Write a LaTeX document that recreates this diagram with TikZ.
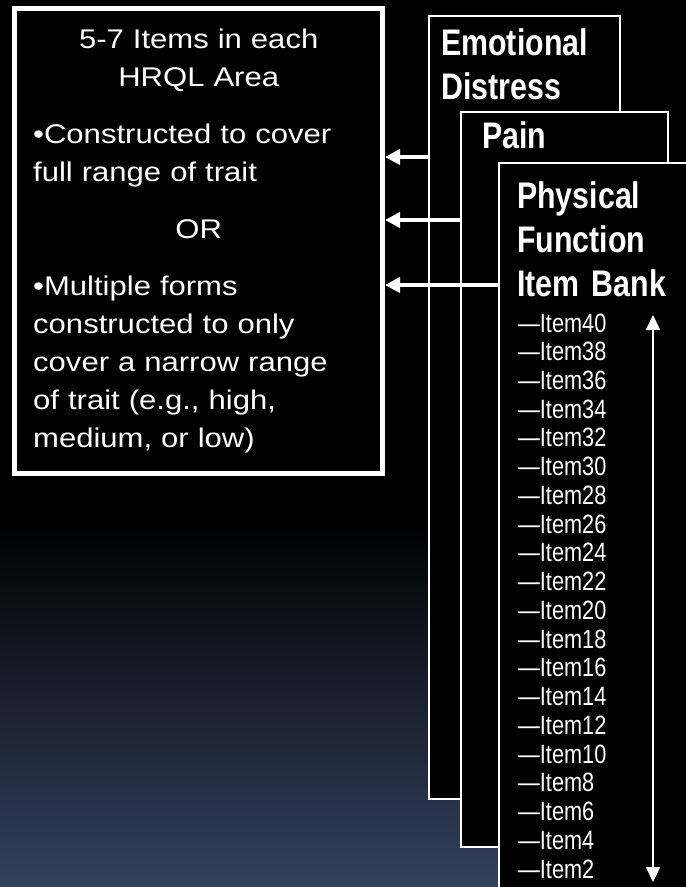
\documentclass[tikz,border=0pt]{standalone}
\usepackage{fontspec}
\usepackage{tikz}
\usetikzlibrary{arrows.meta,positioning}
\setmainfont{Liberation Sans}
\newfontfamily\summaryfont[FakeStretch=1.15]{Liberation Sans}
\newfontfamily\narrowfont[FakeStretch=0.82]{Liberation Sans}
\definecolor{bgNavy}{HTML}{34415F}

\begin{document}
\begin{tikzpicture}[
  x=1pt, y=-1pt,
  summarybox/.style={rectangle, draw=white, line width=5pt, fill=black, minimum width=368pt, minimum height=465pt},
  summarytext/.style={anchor=base west, inner sep=0pt, text=white, text width=331pt, align=left, font=\summaryfont\fontsize{27}{38}\selectfont},
  bankbox/.style={rectangle, draw=white, line width=2pt, fill=black, anchor=north west, outer sep=0pt},
  banktitle/.style={anchor=base west, inner sep=0pt, text=white, text width=180pt, align=left, font=\narrowfont\bfseries\fontsize{37}{44}\selectfont},
  itemlabel/.style={anchor=base west, inner sep=0pt, text=white, font=\narrowfont\fontsize{26.5}{28}\selectfont},
  linkarrow/.style={-{Triangle[length=15pt, width=15pt]}, line width=4pt, draw=white},
  scalearrow/.style={{Triangle[length=15pt, width=14pt]}-{Triangle[length=15pt, width=14pt]}, line width=2pt, draw=white}
]
\useasboundingbox (0,0) rectangle (686,887);
\clip (0,0) rectangle (686,887);
% background
\fill[black] (0,0) rectangle (686,520);
\shade[top color=black, bottom color=bgNavy] (0,519) rectangle (686,887);

% summary box on the left
\node[summarybox] (summary) at (198.5,241) {};
\node[summarytext] (summarytext) at (33,48) {\setlength{\parskip}{19pt}%
  {\centering 5-7 Items in each\\HRQL Area\par}
  •Constructed to cover\\full range of trait\par
  {\centering OR\par}
  •Multiple forms\\constructed to only\\cover a narrow range\\of trait (e.g., high,\\medium, or low)};

% stacked item banks
\node[bankbox, minimum width=191pt, minimum height=783pt] (emo) at (429,16) {};
\node[banktitle] (emotitle) at (441,55) {Emotional\\Distress};
\node[bankbox, minimum width=207pt, minimum height=735pt] (pain) at (461,112) {};
\node[banktitle] (paintitle) at (482,148) {Pain};
\node[bankbox, minimum width=240pt, minimum height=760pt] (phys) at (499,163) {};
\node[banktitle] (phystitle) at (517,208) {Physical\\Function\\Item Bank};

\foreach \n [count=\i from 0] in {40,38,...,2}
  \node[itemlabel] (item\n) at (518,{332+28.74*\i}) {—Item\n};

\coordinate (scaletop) at (653,315);
\coordinate (scalebottom) at (653,882);
\draw[scalearrow] (scaletop) -- (scalebottom);

% links to the summary
\coordinate (emolink) at ([yshift=-141pt]emo.north west);
\coordinate (painlink) at ([yshift=-108pt]pain.north west);
\coordinate (physlink) at ([yshift=-122pt]phys.north west);
\draw[linkarrow] (emolink) -- (emolink -| summary.east);
\draw[linkarrow] (painlink) -- (painlink -| summary.east);
\draw[linkarrow] (physlink) -- (physlink -| summary.east);
\end{tikzpicture}
\end{document}
